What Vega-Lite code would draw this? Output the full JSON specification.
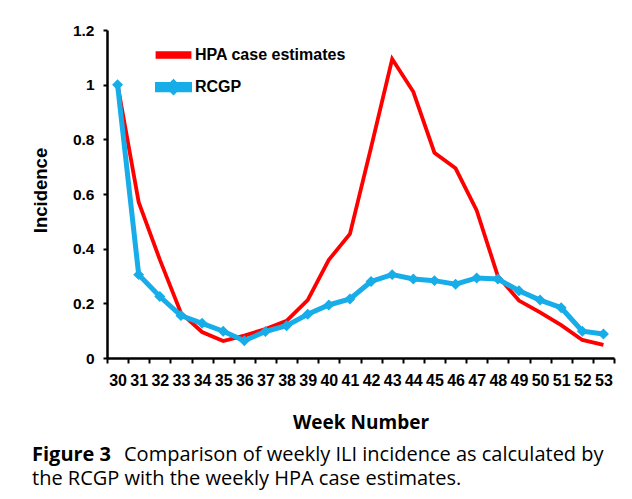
{
  "$schema": "https://vega.github.io/schema/vega-lite/v6.json",
  "width": 507,
  "height": 328,
  "autosize": {"type": "none"},
  "padding": {"left": 107, "top": 30, "right": 18, "bottom": 141},
  "background": "white",
  "config": {"view": {"stroke": null}, "font": "Liberation Sans"},
  "title": {
    "text": "Figure 3",
    "subtitle": ["\u200b\u2003\u2003\u2003\u2003\u2002\u200aComparison of weekly ILI incidence as calculated by", "the RCGP with the weekly HPA case estimates."],
    "orient": "bottom",
    "anchor": "start",
    "frame": "group",
    "dx": -75,
    "offset": 13,
    "font": "Open Sans",
    "fontSize": 20,
    "fontWeight": "bold",
    "color": "black",
    "subtitleFont": "Open Sans",
    "subtitleFontSize": 20,
    "subtitleFontWeight": "normal",
    "subtitleColor": "black",
    "subtitleLineHeight": 24,
    "subtitlePadding": -20
  },
  "data": {
    "values": [
      {"week": 30, "series": "HPA case estimates", "value": 1.0},
      {"week": 31, "series": "HPA case estimates", "value": 0.57},
      {"week": 32, "series": "HPA case estimates", "value": 0.36},
      {"week": 33, "series": "HPA case estimates", "value": 0.165},
      {"week": 34, "series": "HPA case estimates", "value": 0.095},
      {"week": 35, "series": "HPA case estimates", "value": 0.062},
      {"week": 36, "series": "HPA case estimates", "value": 0.082},
      {"week": 37, "series": "HPA case estimates", "value": 0.106},
      {"week": 38, "series": "HPA case estimates", "value": 0.136},
      {"week": 39, "series": "HPA case estimates", "value": 0.212},
      {"week": 40, "series": "HPA case estimates", "value": 0.359},
      {"week": 41, "series": "HPA case estimates", "value": 0.454},
      {"week": 42, "series": "HPA case estimates", "value": 0.77},
      {"week": 43, "series": "HPA case estimates", "value": 1.094},
      {"week": 44, "series": "HPA case estimates", "value": 0.974},
      {"week": 45, "series": "HPA case estimates", "value": 0.751},
      {"week": 46, "series": "HPA case estimates", "value": 0.694},
      {"week": 47, "series": "HPA case estimates", "value": 0.54},
      {"week": 48, "series": "HPA case estimates", "value": 0.3},
      {"week": 49, "series": "HPA case estimates", "value": 0.21},
      {"week": 50, "series": "HPA case estimates", "value": 0.167},
      {"week": 51, "series": "HPA case estimates", "value": 0.12},
      {"week": 52, "series": "HPA case estimates", "value": 0.066},
      {"week": 53, "series": "HPA case estimates", "value": 0.048},
      {"week": 30, "series": "RCGP", "value": 1.0},
      {"week": 31, "series": "RCGP", "value": 0.305},
      {"week": 32, "series": "RCGP", "value": 0.225},
      {"week": 33, "series": "RCGP", "value": 0.155},
      {"week": 34, "series": "RCGP", "value": 0.127},
      {"week": 35, "series": "RCGP", "value": 0.098},
      {"week": 36, "series": "RCGP", "value": 0.063},
      {"week": 37, "series": "RCGP", "value": 0.097},
      {"week": 38, "series": "RCGP", "value": 0.118},
      {"week": 39, "series": "RCGP", "value": 0.16},
      {"week": 40, "series": "RCGP", "value": 0.194},
      {"week": 41, "series": "RCGP", "value": 0.216},
      {"week": 42, "series": "RCGP", "value": 0.28},
      {"week": 43, "series": "RCGP", "value": 0.305},
      {"week": 44, "series": "RCGP", "value": 0.289},
      {"week": 45, "series": "RCGP", "value": 0.283},
      {"week": 46, "series": "RCGP", "value": 0.27},
      {"week": 47, "series": "RCGP", "value": 0.293},
      {"week": 48, "series": "RCGP", "value": 0.289},
      {"week": 49, "series": "RCGP", "value": 0.246},
      {"week": 50, "series": "RCGP", "value": 0.212},
      {"week": 51, "series": "RCGP", "value": 0.184},
      {"week": 52, "series": "RCGP", "value": 0.098},
      {"week": 53, "series": "RCGP", "value": 0.088}
    ]
  },
  "encoding": {
    "x": {
      "field": "week",
      "type": "ordinal",
      "bandPosition": 0.5,
      "scale": {"type": "band", "paddingInner": 0, "paddingOuter": 0},
      "axis": {
        "tickBand": "extent",
        "labelAngle": 0,
        "labelFont": "Liberation Sans",
        "labelFontSize": 16,
        "labelFontWeight": "bold",
        "labelColor": "black",
        "labelOverlap": false,
        "labelPadding": 9,
        "domainColor": "black",
        "domainWidth": 2.5,
        "tickColor": "black",
        "tickWidth": 2,
        "tickSize": 5,
        "title": "Week Number",
        "titleFont": "Open Sans",
        "titleFontSize": 19,
        "titleFontWeight": "bold",
        "titleColor": "black",
        "titleY": 70,
        "titleBaseline": "alphabetic"
      }
    },
    "y": {
      "field": "value",
      "type": "quantitative",
      "scale": {"domain": [0, 1.2], "nice": false},
      "axis": {
        "values": [0, 0.2, 0.4, 0.6, 0.8, 1, 1.2],
        "format": ".1~f",
        "grid": false,
        "labelFont": "Liberation Sans",
        "labelFontSize": 15.5,
        "labelFontWeight": "bold",
        "labelColor": "black",
        "labelPadding": 9,
        "domainColor": "black",
        "domainWidth": 2.5,
        "tickColor": "black",
        "tickWidth": 2,
        "tickSize": 4,
        "title": "Incidence",
        "titleFont": "Liberation Sans",
        "titleFontSize": 18.5,
        "titleFontWeight": "bold",
        "titleColor": "black",
        "titleX": -67,
        "titleY": 160,
        "titleAngle": -90,
        "titleAlign": "center",
        "titleBaseline": "middle"
      }
    }
  },
  "layer": [
    {
      "mark": {"type": "line", "strokeJoin": "miter"},
      "encoding": {
        "color": {
          "field": "series",
          "type": "nominal",
          "scale": {"domain": ["HPA case estimates", "RCGP"], "range": ["#FF0000", "#16ADE8"]},
          "legend": {
            "title": null,
            "orient": "none",
            "legendX": 48,
            "legendY": 7,
            "direction": "vertical",
            "padding": 0,
            "rowPadding": 3.6,
            "symbolSize": 1024,
            "symbolType": "stroke",
            "labelOffset": 3,
            "labelFont": "Liberation Sans",
            "labelFontSize": 16,
            "labelFontWeight": "bold",
            "labelColor": "black",
            "encode": {
              "symbols": {
                "update": {
                  "shape": {"signal": "datum.value === 'RCGP' ? 'M-1,-0.16H-0.145L0,-0.3L0.145,-0.16H1V0.16H0.145L0,0.3L-0.145,0.16H-1Z' : 'M-1,-0.12H1V0.12H-1Z'"},
                  "fill": {"signal": "datum.value === 'RCGP' ? '#16ADE8' : '#FF0000'"},
                  "stroke": {"value": "transparent"},
                  "strokeWidth": {"value": 0}
                }
              }
            }
          }
        },
        "strokeWidth": {
          "field": "series",
          "type": "nominal",
          "scale": {"domain": ["HPA case estimates", "RCGP"], "range": [3.8, 5]},
          "legend": null
        }
      }
    },
    {
      "transform": [{"filter": "datum.series === 'RCGP'"}],
      "mark": {"type": "point", "shape": "diamond", "filled": true, "size": 120, "opacity": 1, "color": "#16ADE8"}
    }
  ]
}
